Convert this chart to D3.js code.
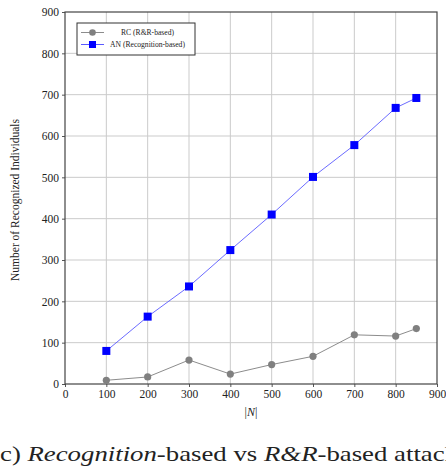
<!DOCTYPE html>
<html>
<head>
<meta charset="utf-8">
<script src="https://cdn.jsdelivr.net/npm/d3@7"></script>
<style>
  body { margin: 0; background: #fff; }
  svg text { font-family: "Liberation Serif", "DejaVu Serif", serif; fill: #222; }
</style>
</head>
<body>
<svg id="chart" width="446" height="468"></svg>
<script>
// data
const sizes = [100, 200, 300, 400, 500, 600, 700, 800, 850];
const rcValues = [9, 17, 58, 24, 47, 67, 119, 116, 134];
const anValues = [80, 163, 236, 324, 410, 501, 578, 668, 692];
const xTicks = [0, 100, 200, 300, 400, 500, 600, 700, 800, 900];
const yTicks = [0, 100, 200, 300, 400, 500, 600, 700, 800, 900];
const seriesNames = ["RC (R&R-based)", "AN (Recognition-based)"];

const svg = d3.select("#chart");
const pLeft = 65, pRight = 437, pTop = 12, pBottom = 384;

const x = d3.scaleLinear().domain([0, 900]).range([pLeft, pRight]);
const y = d3.scaleLinear().domain([0, 900]).range([pBottom, pTop]);

// grid
svg.append("g").selectAll("line").data(xTicks.slice(1, -1)).enter().append("line")
  .attr("x1", d => x(d)).attr("x2", d => x(d)).attr("y1", pTop).attr("y2", pBottom)
  .attr("stroke", "#cbcbcb").attr("stroke-width", 1);
svg.append("g").selectAll("line").data(yTicks.slice(1, -1)).enter().append("line")
  .attr("y1", d => y(d)).attr("y2", d => y(d)).attr("x1", pLeft).attr("x2", pRight)
  .attr("stroke", "#cbcbcb").attr("stroke-width", 1);

// axes
const xAxis = svg.append("g").attr("transform", "translate(0," + pBottom + ")")
  .call(d3.axisBottom(x).tickValues(xTicks).tickSize(3).tickPadding(3).tickFormat(d3.format("d")));
const yAxis = svg.append("g").attr("transform", "translate(" + pLeft + ",0)")
  .call(d3.axisLeft(y).tickValues(yTicks).tickSize(3).tickPadding(3).tickFormat(d3.format("d")));
[xAxis, yAxis].forEach(a => {
  a.attr("font-family", null);
  a.select(".domain").remove();
  a.selectAll("line").attr("stroke", "#555");
  a.selectAll("text").attr("font-size", 11.5).attr("fill", "#222");
});

// frame
svg.append("rect").attr("x", pLeft).attr("y", pTop).attr("width", pRight - pLeft).attr("height", pBottom - pTop)
  .attr("fill", "none").attr("stroke", "#444").attr("stroke-width", 1.2);

// series
const rc = sizes.map((s, i) => [s, rcValues[i]]);
const an = sizes.map((s, i) => [s, anValues[i]]);
const line = d3.line().x(d => x(d[0])).y(d => y(d[1]));

svg.append("path").datum(rc).attr("d", line).attr("fill", "none")
  .attr("stroke", "#8c8c8c").attr("stroke-width", 1);
svg.append("g").selectAll("circle").data(rc).enter().append("circle")
  .attr("cx", d => x(d[0])).attr("cy", d => y(d[1])).attr("r", 3.6).attr("fill", "#808080");

svg.append("path").datum(an).attr("d", line).attr("fill", "none")
  .attr("stroke", "#5a5aff").attr("stroke-width", 0.9);
svg.append("g").selectAll("rect").data(an).enter().append("rect")
  .attr("x", d => x(d[0]) - 4).attr("y", d => y(d[1]) - 4).attr("width", 8).attr("height", 8)
  .attr("fill", "#0000ff");

// legend
const lg = svg.append("g");
lg.append("rect").attr("x", 77).attr("y", 23).attr("width", 118).attr("height", 32)
  .attr("fill", "#fff").attr("stroke", "#333").attr("stroke-width", 1);
const rowY = [32.5, 44.5];
lg.append("line").attr("x1", 81).attr("x2", 104).attr("y1", rowY[0]).attr("y2", rowY[0])
  .attr("stroke", "#8c8c8c").attr("stroke-width", 1);
lg.append("circle").attr("cx", 92.5).attr("cy", rowY[0]).attr("r", 3.3).attr("fill", "#808080");
lg.append("line").attr("x1", 81).attr("x2", 104).attr("y1", rowY[1]).attr("y2", rowY[1])
  .attr("stroke", "#5a5aff").attr("stroke-width", 1);
lg.append("rect").attr("x", 89).attr("y", rowY[1] - 3.5).attr("width", 7).attr("height", 7).attr("fill", "#0000ff");
seriesNames.forEach((n, i) => {
  lg.append("text").attr("x", 147.5).attr("y", rowY[i] + 2.6).attr("text-anchor", "middle")
    .attr("font-size", 7.6).text(n);
});

// axis labels
svg.append("text").attr("transform", "translate(19,200) rotate(-90)").attr("text-anchor", "middle")
  .attr("font-size", 11.5).text("Number of Recognized Individuals");
const xl = svg.append("text").attr("x", 251).attr("y", 416).attr("text-anchor", "middle").attr("font-size", 12);
xl.append("tspan").text("|");
xl.append("tspan").attr("font-style", "italic").text("N");
xl.append("tspan").text("|");

// caption (cropped on the left and right)
const cap = svg.append("text").attr("x", 0).attr("y", 461).attr("font-size", 21)
  .attr("textLength", 458).attr("lengthAdjust", "spacingAndGlyphs");
cap.append("tspan").text("c) ");
cap.append("tspan").attr("font-style", "italic").text("Recognition");
cap.append("tspan").text("-based vs ");
cap.append("tspan").attr("font-style", "italic").text("R&R");
cap.append("tspan").text("-based attack");
</script>
</body>
</html>
